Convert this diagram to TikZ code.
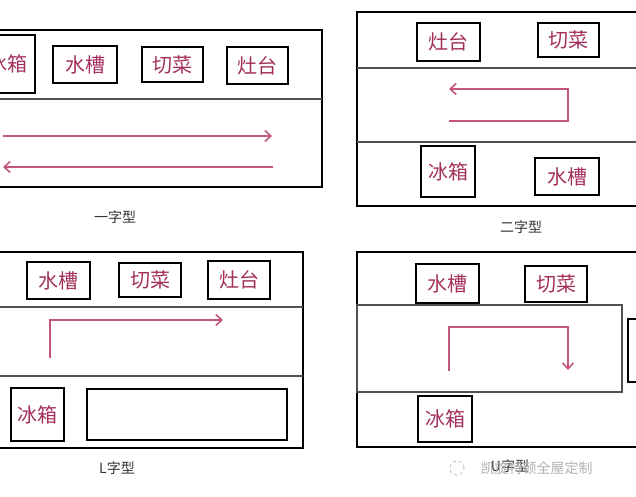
\documentclass[tikz,border=0pt]{standalone}
\usepackage{fontspec}
\newfontfamily\cjk{Noto Sans CJK SC}
\definecolor{boxtext}{HTML}{A3305C}
\definecolor{arrowcol}{HTML}{C4557E}
\definecolor{divcol}{HTML}{505050}
\definecolor{labcol}{HTML}{333333}
\usetikzlibrary{arrows.meta}
\tikzset{
  panel/.style={draw=black, line width=1.8pt},
  divider/.style={draw=divcol, line width=1.2pt},
  inner/.style={draw=divcol, line width=1.2pt},
  appl/.style={draw=black, line width=2.6pt, text=boxtext, inner sep=0pt,
    font=\cjk\fontsize{20}{20}\selectfont},
  flow/.style={draw=arrowcol, line width=1.8pt,
    -{Straight Barb[length=6pt,width=11pt,line width=1.6pt]}},
  caption/.style={text=labcol, font=\cjk\fontsize{14}{14}\selectfont},
  wmark/.style={text=black!30, font=\cjk\fontsize{14}{14}\selectfont}
}
\begin{document}
\begin{tikzpicture}[x=1pt,y=-1pt]
\clip (0,0) rectangle (636,497);
\fill[white] (0,0) rectangle (636,497);

% ---------- 一字型 ----------
\draw[panel] (-10,30) rectangle (322,187);
\draw[divider] (-10,99) -- (322,99);
\node[appl, minimum width=55pt, minimum height=58pt] (a1) at (7.5,64) {冰箱};
\node[appl, minimum width=64pt, minimum height=37pt] (a2) at (85,64.5) {水槽};
\node[appl, minimum width=61pt, minimum height=35pt] (a3) at (172.5,64.5) {切菜};
\node[appl, minimum width=61pt, minimum height=37pt] (a4) at (257.5,65.5) {灶台};
\coordinate (a5) at (3,136);
\coordinate (a6) at (272,136);
\coordinate (a7) at (273,167);
\coordinate (a8) at (3,167);
\draw[flow] (a5) -- (a6);
\draw[flow] (a7) -- (a8);
\node[caption] (a9) at (115,217) {一字型};

% ---------- 二字型 ----------
\draw[panel] (357,12) rectangle (650,206);
\draw[divider] (357,68) -- (650,68);
\draw[divider] (357,142) -- (650,142);
\node[appl, minimum width=63pt, minimum height=38pt] (b1) at (448.5,42) {灶台};
\node[appl, minimum width=61pt, minimum height=34pt] (b2) at (568.5,40) {切菜};
\node[appl, minimum width=54pt, minimum height=51pt] (b3) at (448,171.5) {冰箱};
\node[appl, minimum width=64pt, minimum height=37pt] (b4) at (567,176.5) {水槽};
\coordinate (b5) at (449,121);
\coordinate (b6) at (568,121);
\coordinate (b7) at (568,89);
\coordinate (b8) at (449,89);
\draw[flow] (b5) -- (b6) -- (b7) -- (b8);
\node[caption] (b9) at (521,227) {二字型};

% ---------- L字型 ----------
\draw[panel] (-10,252) rectangle (303,448);
\draw[divider] (-10,307) -- (303,307);
\draw[divider] (-10,376) -- (303,376);
\node[appl, minimum width=63pt, minimum height=37pt] (c1) at (58.5,280.5) {水槽};
\node[appl, minimum width=62pt, minimum height=34pt] (c2) at (150,280) {切菜};
\node[appl, minimum width=62pt, minimum height=38pt] (c3) at (239,280) {灶台};
\node[appl, minimum width=53pt, minimum height=53pt] (c4) at (37.5,414.5) {冰箱};
\node[appl, minimum width=200pt, minimum height=51pt] (c5) at (187,414.5) {};
\coordinate (c6) at (50,358);
\coordinate (c7) at (50,320);
\coordinate (c8) at (223,320);
\draw[flow] (c6) -- (c7) -- (c8);
\node[caption] (c9) at (117,468) {L字型};

% ---------- U字型 ----------
\draw[panel] (357,252) rectangle (650,447);
\draw[inner] (357,305) rectangle (622,392);
\node[appl, minimum width=63pt, minimum height=39pt] (d1) at (447.5,283.5) {水槽};
\node[appl, minimum width=62pt, minimum height=36pt] (d2) at (556,284) {切菜};
\node[appl, minimum width=54pt, minimum height=46pt] (d3) at (445,419) {冰箱};
\node[appl, minimum width=40pt, minimum height=63pt] (d4) at (648,350.5) {};
\coordinate (d5) at (449,371);
\coordinate (d6) at (449,327);
\coordinate (d7) at (568,327);
\coordinate (d8) at (568,370);
\draw[flow] (d5) -- (d6) -- (d7) -- (d8);
\node[caption] (d9) at (510,466) {U字型};

% watermark
\draw[black!25, line width=0.8pt, dashed] (457,468) circle (7pt);
\node[wmark, anchor=west] (w1) at (477,468) {凯旋特顿全屋定制};
\end{tikzpicture}
\end{document}
